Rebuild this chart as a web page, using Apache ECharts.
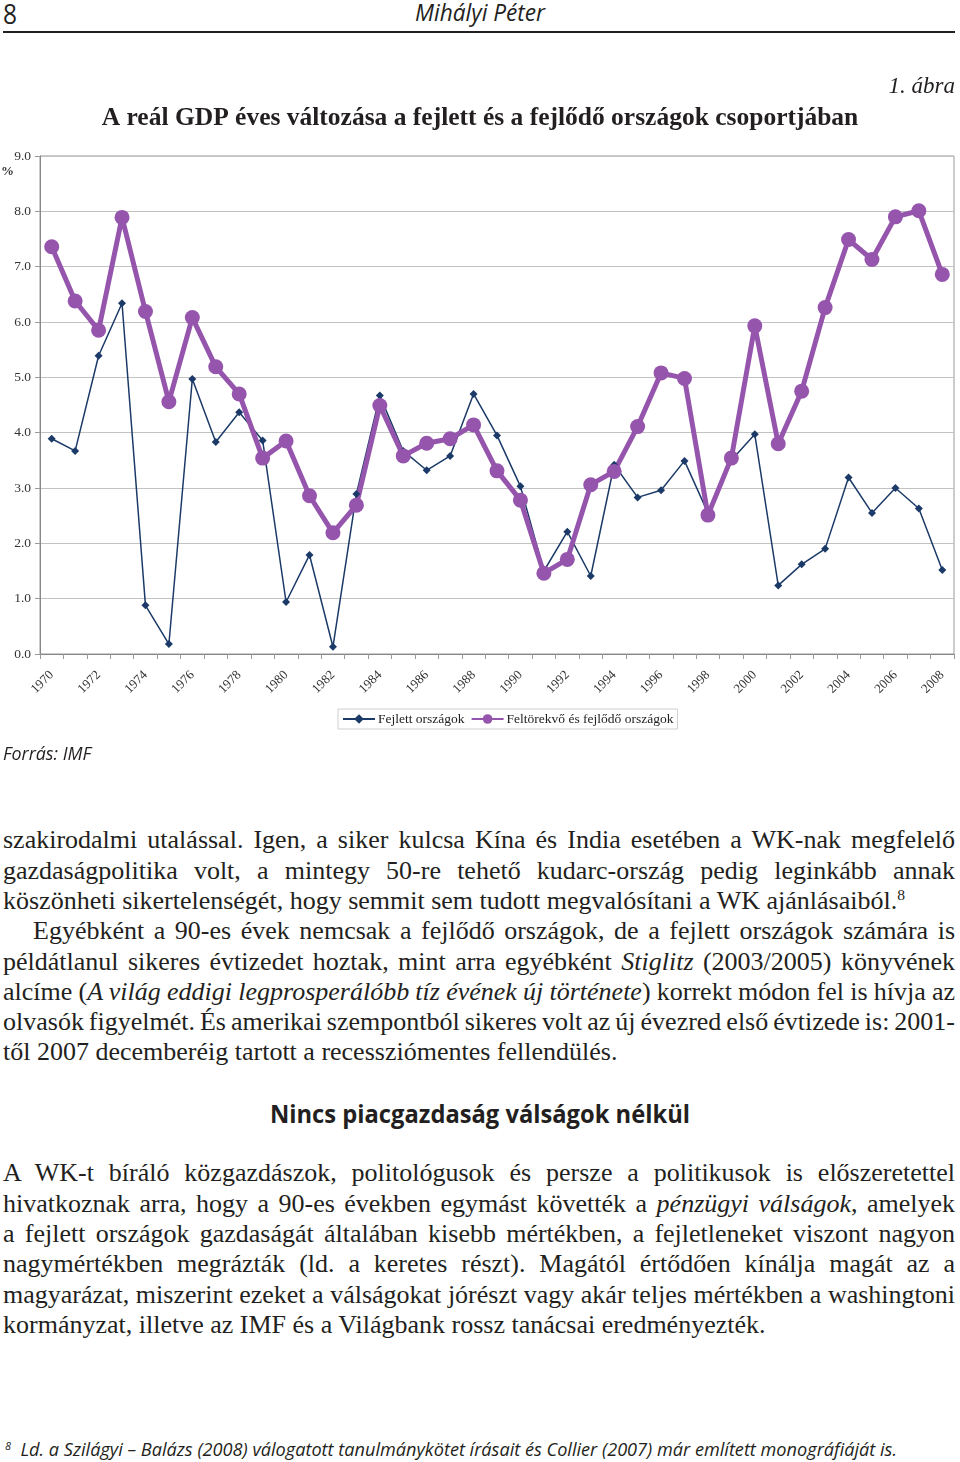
<!DOCTYPE html>
<html><head><meta charset="utf-8">
<script src="https://cdn.jsdelivr.net/npm/echarts@6/dist/echarts.min.js"></script>
<style>
html,body{margin:0;padding:0;background:#fff;}
body{width:960px;height:1462px;position:relative;overflow:hidden;color:#231f20;}
.abs{position:absolute;white-space:nowrap;line-height:1;}
.body{font-family:"Liberation Serif",serif;}
#rule{position:absolute;left:3px;top:31px;width:952px;height:2px;background:#231f20;}
#chart{position:absolute;left:0;top:60px;width:960px;height:700px;}
sup{font-size:60%;vertical-align:0.55em;line-height:0;}
</style></head>
<body>
<div id="rule"></div>
<div id="chart"></div>
<div id="texts"></div>
<script>
// ---------------- data ----------------
const years = ["1970","1971","1972","1973","1974","1975","1976","1977","1978","1979",
  "1980","1981","1982","1983","1984","1985","1986","1987","1988","1989",
  "1990","1991","1992","1993","1994","1995","1996","1997","1998","1999",
  "2000","2001","2002","2003","2004","2005","2006","2007","2008"];
const developed = [3.89,3.67,5.39,6.34,0.88,0.18,4.97,3.83,4.37,3.86,
  0.94,1.79,0.13,2.89,4.67,3.67,3.32,3.58,4.70,3.95,
  3.03,1.50,2.21,1.41,3.42,2.83,2.96,3.49,2.55,3.50,
  3.97,1.24,1.62,1.90,3.19,2.55,3.00,2.63,1.52];
const emerging = [7.36,6.38,5.85,7.89,6.19,4.56,6.08,5.19,4.70,3.54,
  3.85,2.86,2.19,2.69,4.49,3.58,3.81,3.89,4.14,3.31,
  2.78,1.46,1.71,3.06,3.30,4.11,5.08,4.98,2.51,3.54,
  5.93,3.80,4.75,6.26,7.49,7.13,7.90,8.01,6.86];
const seriesNames = ["Fejlett országok","Feltörekvő és fejlődő országok"];
const chartTitle = "A reál GDP éves változása a fejlett és a fejlődő országok csoportjában";

// ---------------- helpers ----------------
const cv = document.createElement('canvas').getContext('2d');
function measure(text, font){ cv.font = font; return cv.measureText(text).width; }
const SERIF = '"Liberation Serif", serif';
const SANS = '"Open Sans", "Noto Sans", sans-serif';
const texts = document.getElementById('texts');

// single-line text fitted to a horizontal span with scaleX; yMid = visual middle
function place(html, x0, x1, yMid, size, family, extra){
  const d = document.createElement('div');
  d.className = 'abs';
  d.style.fontFamily = family;
  d.style.fontSize = size + 'px';
  if (extra) d.style.cssText += extra;
  d.innerHTML = html;
  texts.appendChild(d);
  const w = d.getBoundingClientRect().width;
  const sx = (x1 - x0) / w;
  d.style.left = x0 + 'px';
  d.style.top = (yMid - size * 0.6) + 'px';
  d.style.transformOrigin = '0 0';
  d.style.transform = 'scaleX(' + sx + ')';
  return d;
}

// header
place('8', 3, 17, 15.5, 28, SANS, 'font-weight:400;');
place('Mihályi Péter', 415, 545, 15, 23, SANS, 'font-style:italic;font-weight:400;');
place('Forrás: IMF', 3, 91, 755, 18, SANS, 'font-style:italic;font-weight:400;');
place('Nincs piacgazdaság válságok nélkül', 270, 690, 1116, 25, SANS, 'font-weight:700;');
place('<sup style="font-size:60%">8</sup>&nbsp;&nbsp;Ld. a Szilágyi – Balázs (2008) válogatott tanulmánykötet írásait és Collier (2007) már említett monográfiáját is.',
      5, 897, 1451, 19, SANS, 'font-style:italic;font-weight:400;');

// body paragraphs: [html, justify, indent]
const para1 = [
 ["szakirodalmi utalással. Igen, a siker kulcsa Kína és India esetében a WK-nak megfelelő", true, 0],
 ["gazdaságpolitika volt, a mintegy 50-re tehető kudarc-ország pedig leginkább annak", true, 0],
 ["köszönheti sikertelenségét, hogy semmit sem tudott megvalósítani a WK ajánlásaiból.<sup>8</sup>", false, 0],
 ["Egyébként a 90-es évek nemcsak a fejlődő országok, de a fejlett országok számára is", true, 30],
 ["példátlanul sikeres évtizedet hoztak, mint arra egyébként <i>Stiglitz</i> (2003/2005) könyvének", true, 0],
 ["alcíme (<i>A világ eddigi legprosperálóbb tíz évének új története</i>) korrekt módon fel is hívja az", true, 0],
 ["olvasók figyelmét. És amerikai szempontból sikeres volt az új évezred első évtizede is: 2001-", true, 0],
 ["től 2007 decemberéig tartott a recessziómentes fellendülés.", false, 0]
];
const para2 = [
 ["A WK-t bíráló közgazdászok, politológusok és persze a politikusok is előszeretettel", true, 0],
 ["hivatkoznak arra, hogy a 90-es években egymást követték a <i>pénzügyi válságok</i>, amelyek", true, 0],
 ["a fejlett országok gazdaságát általában kisebb mértékben, a fejletleneket viszont nagyon", true, 0],
 ["nagymértékben megrázták (ld. a keretes részt). Magától értődően kínálja magát az a", true, 0],
 ["magyarázat, miszerint ezeket a válságokat jórészt vagy akár teljes mértékben a washingtoni", true, 0],
 ["kormányzat, illetve az IMF és a Világbank rossz tanácsai eredményezték.", false, 0]
];
const refLine = "köszönheti sikertelenségét, hogy semmit sem tudott megvalósítani a WK ajánlásaiból.";
const bodySize = 24 * 895 / measure(refLine, '24px ' + SERIF);
function paragraph(lines, yFirst, step){
  lines.forEach((ln, i) => {
    const d = document.createElement('div');
    d.className = 'abs body';
    d.style.fontSize = bodySize + 'px';
    d.innerHTML = ln[0];
    texts.appendChild(d);
    const x0 = 3 + ln[2];
    d.style.left = x0 + 'px';
    d.style.top = (yFirst + i * step - bodySize * 0.6) + 'px';
    if (ln[1]) {
      const w = d.getBoundingClientRect().width;
      const spaces = (d.textContent.match(/ /g) || []).length;
      d.style.wordSpacing = ((955 - x0 - w) / spaces) + 'px';
    }
  });
}
paragraph(para1, 843, 30.3);
paragraph(para2, 1176, 30.35);

// ---------------- chart ----------------
const titleSize = 22 * 757 / measure(chartTitle, 'bold 22px ' + SERIF);
const chart = echarts.init(document.getElementById('chart'), null, {renderer: 'canvas'});
const NAVY = '#1b3a68', PURPLE = '#9655ad';
chart.setOption({
  animation: false,
  backgroundColor: '#fff',
  title: {
    text: chartTitle, left: 'center', top: 56 - titleSize * 0.6,
    textStyle: {fontFamily: SERIF, fontWeight: 'bold', fontSize: titleSize, color: '#231f20'}
  },
  graphic: [
    {type: 'text', right: 5, top: 15, style: {text: '1. ábra', font: 'italic 23px ' + SERIF, fill: '#231f20'}},
    {type: 'text', left: 1, top: 105, style: {text: '%', font: 'bold 13px ' + SERIF, fill: '#333'}}
  ],
  legend: {
    left: 338, top: 649, padding: [3, 4, 3, 4], itemGap: 6, itemWidth: 32, itemHeight: 12,
    borderColor: '#cfcfcf', borderWidth: 1, borderRadius: 0,
    textStyle: {fontFamily: SERIF, fontSize: 13.5, color: '#222', padding: [0, 0, 0, -2]},
    data: seriesNames
  },
  grid: {left: 40, right: 6, top: 96, bottom: 106, show: true, borderColor: '#999', borderWidth: 1},
  xAxis: {
    type: 'category', data: years, boundaryGap: true,
    axisLine: {lineStyle: {color: '#888', width: 1}},
    axisTick: {show: true, interval: 0, length: 5, lineStyle: {color: '#999'}},
    axisLabel: {interval: 1, rotate: 45, margin: 19, fontFamily: SERIF, fontSize: 13, color: '#333'}
  },
  yAxis: {
    type: 'value', min: 0, max: 9, interval: 1,
    axisLine: {show: true, lineStyle: {color: '#888'}},
    axisTick: {show: true, length: 5, lineStyle: {color: '#999'}},
    axisLabel: {margin: 9, fontFamily: SERIF, fontSize: 13.5, color: '#333', formatter: v => v.toFixed(1)},
    splitLine: {lineStyle: {color: '#c2c2c2', width: 1}}
  },
  series: [
    {name: seriesNames[0], type: 'line', data: developed, symbol: 'diamond', symbolSize: 8,
     lineStyle: {color: NAVY, width: 1.5}, itemStyle: {color: NAVY}},
    {name: seriesNames[1], type: 'line', data: emerging, symbol: 'circle', symbolSize: 15,
     lineStyle: {color: PURPLE, width: 5}, itemStyle: {color: PURPLE}}
  ]
});
</script>
</body></html>
